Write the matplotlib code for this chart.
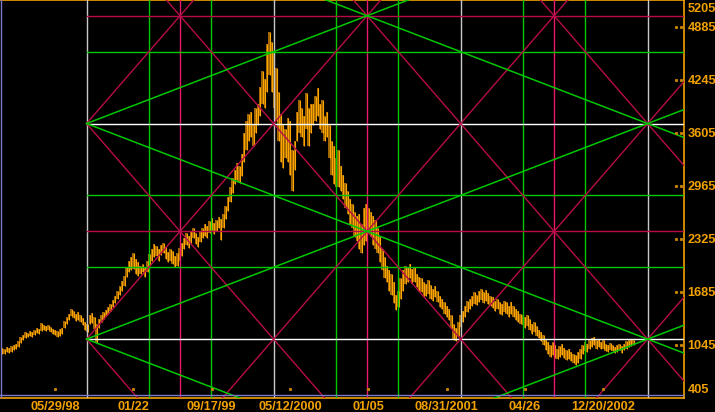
import numpy as np
import matplotlib.pyplot as plt

# weekly bars (high / low), Dec 1997 - Mar 2003
highs = [1010, 1000, 1020, 1010, 1030, 1050, 1060, 1090, 1140, 1170,
         1200, 1190, 1210, 1200, 1230, 1250, 1240, 1310, 1280, 1270,
         1290, 1260, 1240, 1230, 1210, 1240, 1250, 1330, 1380, 1420,
         1480, 1450, 1420, 1440, 1400, 1370, 1320, 1300, 1400, 1430,
         1380, 1300, 1360, 1400, 1440, 1470, 1500, 1540, 1590, 1640,
         1700, 1760, 1820, 1880, 1980, 2060, 2100, 2150, 2080, 2040,
         2000, 2020, 1990, 2060, 2140, 2200, 2260, 2240, 2200, 2250,
         2280, 2230, 2170, 2200, 2180, 2120, 2150, 2210, 2270, 2330,
         2390, 2360, 2420, 2460, 2400, 2350, 2420, 2460, 2500, 2480,
         2540, 2570, 2520, 2550, 2590, 2560, 2620, 2720, 2830, 2950,
         3060, 3150, 3240, 3200, 3350, 3600, 3750, 3830, 3850, 3700,
         3900, 3950, 4150, 4350, 4250, 4670, 4820, 4700, 4560, 4380,
         4100, 3830, 3700, 3650, 3780, 3750, 3400, 3500, 3850, 4000,
         3900, 3800, 4080, 3900, 3950, 3950, 4050, 4140, 3950, 4000,
         3800, 3850, 3700, 3500, 3450, 3300, 3400, 3200, 3100, 3000,
         2900, 2800, 2750, 2650, 2600, 2630, 2500, 2700, 2750, 2700,
         2650, 2600, 2550, 2450, 2350, 2200, 2100, 2000, 1950, 1900,
         1800, 1650, 1700, 1850, 1950, 2000, 1980, 2020, 1960, 1990,
         1900, 1870, 1850, 1800, 1780, 1830, 1770, 1720, 1760, 1700,
         1640, 1600, 1560, 1520, 1480, 1400, 1300, 1250, 1320, 1400,
         1460, 1520, 1580, 1600, 1640, 1680, 1650, 1700, 1720, 1680,
         1710, 1670, 1640, 1620, 1580, 1600, 1560, 1540, 1580, 1560,
         1520, 1560, 1520, 1480, 1450, 1420, 1400, 1380, 1400, 1360,
         1300, 1320, 1270, 1230, 1200, 1160, 1100, 1080, 1040, 1080,
         1050, 1000, 1030, 1060, 1010, 980, 1000, 960, 940, 920,
         960, 1000, 1050, 1080, 1060, 1100, 1130, 1140, 1100, 1120,
         1080, 1100, 1060, 1040, 1070, 1050, 1020, 1040, 1060, 1030,
         1060, 1090, 1110, 1100, 1110]
lows = [940, 930, 960, 950, 965, 985, 1000, 1020, 1070, 1100,
        1130, 1140, 1150, 1140, 1160, 1190, 1180, 1210, 1220, 1210,
        1230, 1200, 1180, 1170, 1140, 1150, 1180, 1250, 1300, 1340,
        1390, 1370, 1330, 1350, 1320, 1290, 1220, 1200, 1300, 1310,
        1240, 1070, 1250, 1320, 1360, 1390, 1420, 1460, 1500, 1550,
        1600, 1650, 1700, 1760, 1860, 1920, 1950, 1960, 1900, 1880,
        1900, 1920, 1870, 1930, 2010, 2060, 2100, 2120, 2060, 2130,
        2150, 2080, 2040, 2060, 2020, 1990, 2000, 2060, 2120, 2200,
        2250, 2220, 2280, 2330, 2260, 2230, 2290, 2330, 2360, 2340,
        2400, 2430, 2380, 2420, 2450, 2310, 2460, 2560, 2660, 2770,
        2880, 2980, 3030, 3000, 3080, 3250, 3400, 3500, 3550, 3450,
        3600, 3700, 3800, 3950, 3900, 4100, 4300, 4100, 3900, 3750,
        3500, 3250, 3180, 3300, 3250, 3100, 2900, 3150, 3500, 3600,
        3550, 3450, 3650, 3450, 3600, 3700, 3750, 3800, 3650, 3600,
        3500, 3550, 3300, 3100, 2980, 2950, 2950, 2900, 2800, 2700,
        2620, 2500, 2450, 2350, 2300, 2200, 2150, 2250, 2300, 2400,
        2350, 2250, 2200, 2150, 2050, 1950, 1850, 1800, 1700, 1650,
        1550, 1470, 1500, 1600, 1700, 1780, 1800, 1850, 1780, 1800,
        1740, 1700, 1680, 1620, 1640, 1660, 1600, 1580, 1620, 1560,
        1500, 1480, 1420, 1380, 1350, 1250, 1100, 1090, 1150, 1260,
        1320, 1380, 1440, 1480, 1520, 1540, 1530, 1560, 1590, 1550,
        1580, 1540, 1510, 1490, 1450, 1480, 1420, 1400, 1440, 1420,
        1380, 1420, 1380, 1350, 1320, 1300, 1280, 1250, 1270, 1230,
        1180, 1200, 1150, 1130, 1090, 1040, 980, 940, 900, 920,
        890, 870, 900, 920, 890, 860, 880, 850, 830, 800,
        830, 880, 930, 970, 960, 990, 1020, 1040, 1000, 1020,
        990, 1000, 970, 960, 980, 970, 950, 960, 980, 950,
        980, 1000, 1020, 1030, 1040]

date_ticks = [23, 57, 91, 125, 159, 193, 227, 261]
date_labels = ["05/29/98", "01/22", "09/17/99", "05/12/2000",
               "01/05", "08/31/2001", "04/26", "12/20/2002"]
price_ticks = [1045, 1685, 2325, 2965, 3605, 4245, 4885]
price_lo, price_hi = 405, 5205

# gann grid: corner of the first square and its size (weeks, points)
gann_x0, gann_dx = 36.7, 81.2
gann_y0, gann_dy = 1115, 2600

orange = '#f2a200'
red = '#b80c48'
pink = '#e8186a'
green = '#00c800'

fig = plt.figure(figsize=(7.15, 4.12), dpi=100, facecolor='black')
ax = fig.add_axes([0, 14 / 412, 684 / 715, 398 / 412], facecolor='black')

x = np.arange(len(highs))
hi = np.array(highs)
lo = np.array(lows)
ax.bar(x, hi - lo, bottom=lo, width=0.85, color='#a06600', zorder=2)
ax.vlines(x + 0.2, lo, hi, color='#ffa600', lw=0.8, zorder=3)

xmin, xmax = -0.88, 296.1
ax.set_xlim(xmin, xmax)
ax.set_ylim(price_lo, price_hi)

# gann square grid, everything starts at the first corner
umax = (xmax - gann_x0) / gann_dx
u = np.array([0, umax])
gx = gann_x0 + u * gann_dx

def gy(w):
    return gann_y0 + w * gann_dy

for n in range(4):
    for frac, col in [(0, '#c8c8c8'), (1 / 3, green), (0.5, pink), (2 / 3, green)]:
        if n + frac <= umax:
            ax.axvline(gann_x0 + (n + frac) * gann_dx, color=col, lw=1, zorder=4)
for n in range(-1, 2):
    for frac, col in [(0, 'white'), (1 / 3, green), (0.5, red), (2 / 3, green)]:
        ax.plot(gx, [gy(n + frac)] * 2, color=col, lw=1, zorder=4)

for n in range(-4, 6):
    ax.plot(gx, gy(u + n), color=red, lw=1, zorder=5)
    ax.plot(gx, gy(-u + n), color=red, lw=1, zorder=5)
for n in range(-2, 4):
    ax.plot(gx, gy(n + u / 3), color=green, lw=1.1, zorder=5)
    ax.plot(gx, gy(n - u / 3), color=green, lw=1.1, zorder=5)

# frame lines
ax.axvline(-0.3, color='#7c78c8', lw=1, zorder=6)
ax.axhline(445, color='#7c78c8', lw=1, zorder=6)

ax.spines['left'].set_visible(False)
for side in ['right', 'bottom', 'top']:
    ax.spines[side].set_color(orange)
    ax.spines[side].set_linewidth(1.2)

font = dict(family='Liberation Sans', weight='bold', size=9.2)
ax.yaxis.tick_right()
ax.set_yticks(price_ticks)
ax.set_yticklabels([str(v) for v in price_ticks], color=orange, **font)
ax.set_xticks(date_ticks)
ax.set_xticklabels(date_labels, color=orange, **font)
ax.tick_params(axis='y', length=0, pad=2.5)
ax.tick_params(axis='x', length=0, pad=2)

ax.annotate(str(price_hi), xy=(1, price_hi), xycoords=ax.get_yaxis_transform(),
            xytext=(2.5, -6.5), textcoords='offset points', va='center', ha='left',
            color=orange, annotation_clip=False, **font)
ax.annotate(str(price_lo), xy=(1, price_lo), xycoords=ax.get_yaxis_transform(),
            xytext=(2.5, 6), textcoords='offset points', va='center', ha='left',
            color=orange, annotation_clip=False, **font)

# small dotted tick marks inside the frame
for v in price_ticks:
    ax.plot([0.988, 0.995], [v, v], ls='none', marker='s', ms=1.2, color='#c08000',
            transform=ax.get_yaxis_transform(), zorder=6)
for t in date_ticks:
    ax.plot([t], [0.022], ls='none', marker='s', ms=1.2, color='#c08000',
            transform=ax.get_xaxis_transform(), zorder=6)

fig.savefig('out.png', dpi=100, facecolor='black')
